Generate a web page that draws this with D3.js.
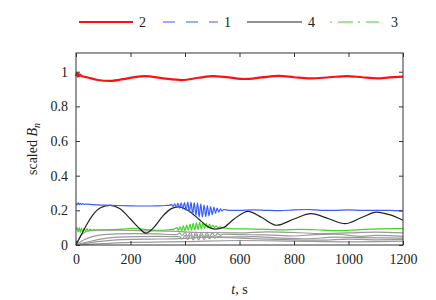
<!DOCTYPE html>
<html>
<head>
<meta charset="utf-8">
<script src="https://cdn.jsdelivr.net/npm/d3@7"></script>
<style>
  body { margin: 0; background: #fff; }
</style>
</head>
<body>
<div id="vizcont"></div>
<script>
// scaled B_n vs time

var xTicks = [0, 200, 400, 600, 800, 1000, 1200];
var yTicks = [0, 0.2, 0.4, 0.6, 0.8, 1];

// mode 2 (red)
var t2 = [0, 3, 6, 9, 12, 15, 20, 40, 80, 125, 190, 253, 320, 389, 450, 503, 560, 620, 680, 745, 800, 858, 930, 994, 1050, 1104, 1150, 1200];
var b2 = [0.975, 0.992, 0.972, 0.988, 0.975, 0.984, 0.975, 0.968, 0.952, 0.947, 0.962, 0.975, 0.962, 0.952, 0.965, 0.975, 0.967, 0.958, 0.967, 0.976, 0.968, 0.961, 0.968, 0.975, 0.968, 0.962, 0.967, 0.972];

// mode 1 (blue)
var t1 = [0, 4, 8, 12, 16, 20, 25, 30, 40, 60, 100, 150, 200, 250, 300, 330, 345,
          350, 356, 362, 368, 374, 380, 386, 392, 398, 404, 410, 416, 422, 428, 434, 440, 446, 452, 458, 464, 470, 476, 482, 488, 494, 500, 506, 512, 518, 524, 530, 536, 542,
          560, 600, 650, 700, 750, 800, 850, 900, 950, 1000, 1050, 1100, 1150, 1200];
var b1 = [0.24, 0.232, 0.243, 0.233, 0.241, 0.234, 0.239, 0.235, 0.236, 0.233, 0.23, 0.228, 0.226, 0.225, 0.226, 0.228, 0.23,
          0.235, 0.222, 0.238, 0.218, 0.24, 0.213, 0.243, 0.208, 0.245, 0.2, 0.247, 0.19, 0.248, 0.178, 0.245, 0.17, 0.243, 0.162, 0.238, 0.16, 0.232, 0.163, 0.228, 0.168, 0.222, 0.175, 0.218, 0.183, 0.213, 0.19, 0.208, 0.196, 0.205,
          0.2, 0.2, 0.203, 0.2, 0.198, 0.203, 0.205, 0.2, 0.2, 0.203, 0.2, 0.2, 0.2, 0.197];

// mode 4 (black)
var t4 = [0, 20, 40, 60, 90, 125, 160, 200, 230, 257, 285, 320, 350, 375, 410, 450, 480, 510, 540, 580, 632, 680, 737, 800, 862, 930, 987, 1050, 1103, 1150, 1200];
var b4 = [0, 0.06, 0.12, 0.17, 0.215, 0.229, 0.21, 0.15, 0.1, 0.068, 0.1, 0.17, 0.21, 0.22, 0.2, 0.15, 0.11, 0.092, 0.1, 0.15, 0.194, 0.16, 0.114, 0.15, 0.181, 0.15, 0.123, 0.16, 0.19, 0.175, 0.143];

// mode 3 (green)
var t3 = [0, 4, 8, 12, 16, 20, 25, 30, 35, 40, 46, 52, 58, 65, 72, 80, 120, 170, 210, 250, 300, 340, 360,
          370, 376, 382, 388, 394, 400, 406, 412, 418, 424, 430, 436, 442, 448, 454, 460, 466, 472, 478, 484, 490, 496, 502, 508, 514, 520, 528, 540,
          560, 620, 700, 760, 820, 880, 950, 1000, 1060, 1120, 1200];
var b3 = [0.09, 0.1, 0.075, 0.1, 0.072, 0.098, 0.075, 0.096, 0.078, 0.094, 0.08, 0.092, 0.082, 0.09, 0.085, 0.088, 0.088, 0.092, 0.096, 0.09, 0.085, 0.088, 0.092,
          0.1, 0.085, 0.105, 0.083, 0.11, 0.083, 0.115, 0.085, 0.12, 0.086, 0.125, 0.088, 0.128, 0.09, 0.13, 0.092, 0.128, 0.095, 0.125, 0.097, 0.12, 0.098, 0.115, 0.1, 0.11, 0.1, 0.105, 0.1,
          0.095, 0.093, 0.09, 0.087, 0.09, 0.088, 0.083, 0.085, 0.09, 0.093, 0.095];

// the other modes (grey)
var tg1 = [0, 20, 60, 150, 250, 350, 450, 600, 700, 800, 900, 1000, 1100, 1200];
var bg1 = [0, 0.06, 0.085, 0.086, 0.082, 0.08, 0.072, 0.07, 0.076, 0.072, 0.066, 0.07, 0.074, 0.07];
var tg2 = [0, 30, 100, 200, 300, 370, 380, 390, 400, 410, 420, 430, 440, 450, 460, 470, 480, 490, 500, 510, 520, 530, 540, 600, 700, 800, 880, 950, 1050, 1100, 1200];
var bg2 = [0, 0.03, 0.06, 0.066, 0.064, 0.06, 0.068, 0.055, 0.072, 0.05, 0.075, 0.045, 0.076, 0.043, 0.075, 0.045, 0.073, 0.048, 0.07, 0.052, 0.066, 0.056, 0.062, 0.06, 0.058, 0.052, 0.06, 0.062, 0.05, 0.055, 0.05];
var tg3 = [0, 50, 150, 300, 380, 390, 400, 410, 420, 430, 440, 450, 460, 470, 480, 490, 500, 510, 520, 540, 650, 750, 850, 950, 1050, 1200];
var bg3 = [0, 0.02, 0.045, 0.05, 0.048, 0.035, 0.055, 0.032, 0.058, 0.03, 0.06, 0.03, 0.058, 0.032, 0.055, 0.036, 0.052, 0.04, 0.048, 0.045, 0.048, 0.04, 0.036, 0.045, 0.042, 0.04];
var tg4 = [0, 80, 150, 250, 350, 500, 600, 700, 800, 900, 1000, 1100, 1200];
var bg4 = [0, 0.02, 0.03, 0.034, 0.035, 0.045, 0.04, 0.034, 0.03, 0.028, 0.034, 0.03, 0.032];
var tg5 = [0, 100, 200, 400, 600, 800, 1000, 1200];
var bg5 = [0, 0.008, 0.015, 0.02, 0.026, 0.022, 0.018, 0.022];

var font = "Liberation Serif, DejaVu Serif, serif";

var margin = {top: 53, right: 33, bottom: 55, left: 76};
var width = 436 - margin.left - margin.right;
var height = 300 - margin.top - margin.bottom;

var svg = d3.select("#vizcont").append("svg")
    .attr("width", 436)
    .attr("height", 300);
var g = svg.append("g")
    .attr("transform", "translate(" + margin.left + "," + margin.top + ")");

var x = d3.scaleLinear().domain([0, 1200]).range([0, width]);
var y = d3.scaleLinear().domain([0, 1.108]).range([height, 0]);

var line = d3.line()
    .x(function(d) { return x(d[0]); })
    .y(function(d) { return y(d[1]); })
    .curve(d3.curveMonotoneX);

function pairs(ts, bs) { return ts.map(function(t, i) { return [t, bs[i]]; }); }

// grey first so the coloured ones sit on top
[[tg1, bg1], [tg2, bg2], [tg3, bg3], [tg4, bg4], [tg5, bg5]].forEach(function(s) {
  g.append("path")
   .datum(pairs(s[0], s[1]))
   .attr("d", line)
   .attr("fill", "none")
   .attr("stroke", "#999")
   .attr("stroke-width", 1.2);
});

var series = [
  {t: t3, b: b3, color: "#3fd41f", w: 1.2},
  {t: t4, b: b4, color: "#222", w: 1.2},
  {t: t1, b: b1, color: "#3b5cff", w: 1.2},
  {t: t2, b: b2, color: "#ff1010", w: 2.2}
];
series.forEach(function(s) {
  g.append("path")
   .datum(pairs(s.t, s.b))
   .attr("d", line)
   .attr("fill", "none")
   .attr("stroke", s.color)
   .attr("stroke-width", s.w);
});

// box + inward ticks on all sides
g.append("rect")
 .attr("width", width).attr("height", height)
 .attr("fill", "none").attr("stroke", "#333").attr("stroke-width", 1);

var tl = 4;
var xa = g.append("g")
 .attr("transform", "translate(0," + height + ")")
 .call(d3.axisBottom(x).tickValues(xTicks).tickSize(-tl).tickPadding(9).tickFormat(d3.format("d")))
 .call(function(a) { a.select(".domain").remove(); });
g.append("g")
 .call(d3.axisTop(x).tickValues(xTicks).tickSize(-tl).tickFormat(""))
 .call(function(a) { a.select(".domain").remove(); });
var ya = g.append("g")
 .call(d3.axisLeft(y).tickValues(yTicks).tickSize(-tl).tickPadding(8).tickFormat(function(d) { return d; }))
 .call(function(a) { a.select(".domain").remove(); });
g.append("g")
 .attr("transform", "translate(" + width + ",0)")
 .call(d3.axisRight(y).tickValues(yTicks).tickSize(-tl).tickFormat(""))
 .call(function(a) { a.select(".domain").remove(); });
g.selectAll(".tick line").attr("stroke", "#333");
xa.attr("font-family", font).attr("font-size", 14);
ya.attr("font-family", font).attr("font-size", 14);
g.selectAll(".tick text").attr("fill", "#222");

// axis labels
var xl = svg.append("text")
  .attr("x", margin.left + width / 2)
  .attr("y", 294)
  .attr("text-anchor", "middle")
  .attr("fill", "#222")
  .attr("font-family", font)
  .attr("font-size", 14);
xl.append("tspan").style("font-style", "italic").text("t");
xl.append("tspan").text(", s");

var yl = svg.append("text")
  .attr("transform", "translate(37," + (margin.top + height / 2) + ") rotate(-90)")
  .attr("text-anchor", "middle")
  .attr("fill", "#222")
  .attr("font-family", font)
  .attr("font-size", 14);
yl.append("tspan").text("scaled ");
yl.append("tspan").style("font-style", "italic").text("B");
yl.append("tspan").style("font-style", "italic").style("font-size", "10px").attr("dy", 3).text("n");

// legend
var legend = [
  {name: "2", color: "#ff1010", dash: null, w: 2.2, x0: 79, x1: 133},
  {name: "1", color: "#3b5cff", dash: "12,11", w: 1.2, x0: 163, x1: 218},
  {name: "4", color: "#222", dash: null, w: 1.2, x0: 247, x1: 302},
  {name: "3", color: "#3fd41f", dash: "2,6,15,5", w: 1.2, x0: 330, x1: 379}
];
var lg = svg.append("g");
legend.forEach(function(d) {
  lg.append("line")
    .attr("x1", d.x0).attr("x2", d.x1)
    .attr("y1", 22).attr("y2", 22)
    .attr("stroke", d.color)
    .attr("stroke-width", d.w)
    .attr("stroke-dasharray", d.dash);
  lg.append("text")
    .attr("x", d.name === "3" ? d.x1 + 12 : d.x1 + 6)
    .attr("y", 27)
    .attr("fill", "#222")
    .attr("font-family", font)
    .attr("font-size", 14)
    .text(d.name);
});
</script>
</body>
</html>
